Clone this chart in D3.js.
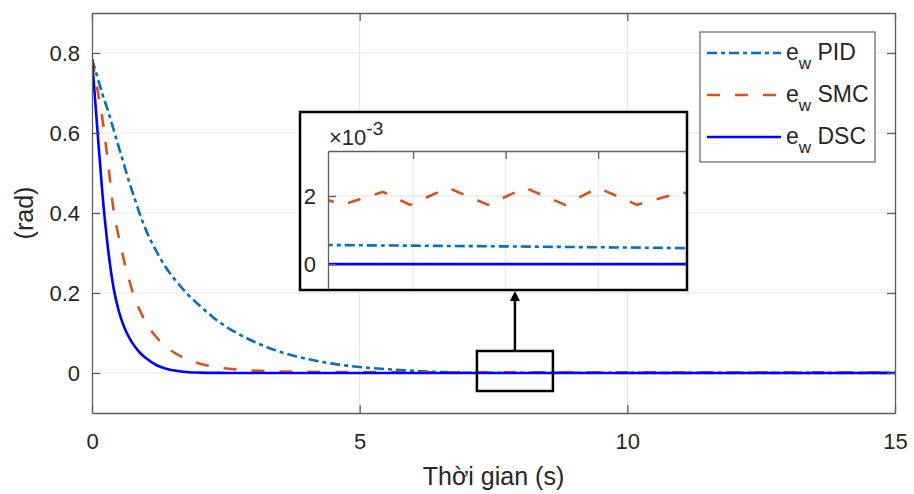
<!DOCTYPE html>
<html>
<head>
<meta charset="utf-8">
<script src="https://cdn.jsdelivr.net/npm/d3@7"></script>
<style>
  body { margin: 0; background: #fff; }
  text { font-family: "Liberation Sans", Arial, sans-serif; fill: #262626; }
</style>
</head>
<body>
<svg id="chart" width="914" height="494"></svg>
<script>
'use strict';

// e_w PID
const timePID = [0, 0.1, 0.2, 0.3, 0.4, 0.5, 0.6, 0.7, 0.8, 0.9, 1.0, 1.2, 1.4, 1.6, 1.8, 2.0, 2.3, 2.6, 3.0, 3.4, 3.8, 4.2, 4.6, 5.0, 5.5, 6.0, 6.5, 7.04, 8.0, 8.98, 10, 12, 15];
const errPID = [0.785, 0.74, 0.695, 0.655, 0.61, 0.565, 0.52, 0.475, 0.435, 0.395, 0.36, 0.305, 0.26, 0.225, 0.195, 0.17, 0.135, 0.108, 0.08, 0.058, 0.042, 0.03, 0.021, 0.015, 0.0095, 0.0055, 0.0025, 0.00056, 0.00052, 0.00047, 0.00043, 0.00037, 0.0003];

// e_w SMC (chattering around 2e-3 after ~4 s)
const timeSMC = [0, 0.1, 0.2, 0.3, 0.4, 0.5, 0.6, 0.7, 0.8, 0.9, 1.0, 1.2, 1.4, 1.6, 1.8, 2.0, 2.3, 2.6, 3.0, 3.4, 3.8, 4.5, 5.5, 6.5, 6.9,
  7.04, 7.116, 7.337, 7.483, 7.689, 7.905, 8.105, 8.321, 8.499, 8.71, 8.954, 9.1, 10, 12, 15];
const errSMC = [0.785, 0.71, 0.63, 0.525, 0.41, 0.34, 0.28, 0.23, 0.185, 0.155, 0.128, 0.09, 0.064, 0.046, 0.033, 0.024, 0.015, 0.01, 0.006, 0.004, 0.003, 0.0024, 0.0021, 0.002, 0.0019,
  0.00188, 0.00174, 0.00212, 0.00174, 0.00224, 0.00174, 0.00224, 0.00174, 0.00224, 0.00174, 0.00212, 0.0018, 0.002, 0.002, 0.002];

// e_w DSC
const timeDSC = [0, 0.1, 0.2, 0.3, 0.4, 0.5, 0.6, 0.7, 0.8, 0.9, 1.0, 1.2, 1.4, 1.6, 1.8, 2.0, 2.3, 2.6, 3.0, 15];
const errDSC = [0.785, 0.61, 0.44, 0.31, 0.215, 0.155, 0.115, 0.087, 0.066, 0.05, 0.038, 0.02, 0.01, 0.005, 0.002, 0.001, 0.0003, 0.0001, 0, 0];

const xTicks = [0, 5, 10, 15];
const yTicks = [0, 0.2, 0.4, 0.6, 0.8];
const insetXTicks = [7.5, 8, 8.5];
const insetYTicks = [0, 0.002];
const zoomT = [7.19, 8.61];      // rectangle marked on the main plot
const zoomE = [-0.045, 0.055];
const seriesNames = ['PID', 'SMC', 'DSC'];

const W = 914, H = 494;
const margin = {top: 13, right: 19, bottom: 81, left: 92};
const width = W - margin.left - margin.right;
const height = H - margin.top - margin.bottom;

const styles = {
  PID: {color: '#0072BD', dash: '10,4,4,4'},
  SMC: {color: '#D95319', dash: '13,15'},
  DSC: {color: '#0000FF', dash: null}
};

const series = [
  {name: 'PID', t: timePID, e: errPID},
  {name: 'SMC', t: timeSMC, e: errSMC},
  {name: 'DSC', t: timeDSC, e: errDSC}
].map(s => ({name: s.name, values: s.t.map((t, i) => ({t: t, e: s.e[i]}))}));

const svg = d3.select('#chart');

const x = d3.scaleLinear().domain([0, 15]).range([margin.left, margin.left + width]);
const y = d3.scaleLinear().domain([-0.1, 0.9]).range([margin.top + height, margin.top]);

// grid
const grid = svg.append('g').attr('stroke', '#e3e3e3').attr('stroke-width', 1);
grid.selectAll('line.gx').data(xTicks.slice(1, -1)).enter().append('line')
  .attr('x1', d => x(d)).attr('x2', d => x(d))
  .attr('y1', margin.top).attr('y2', margin.top + height);
grid.selectAll('line.gy').data(yTicks).enter().append('line')
  .attr('x1', margin.left).attr('x2', margin.left + width)
  .attr('y1', d => y(d)).attr('y2', d => y(d));

// curves
svg.append('clipPath').attr('id', 'clipMain').append('rect')
  .attr('x', margin.left).attr('y', margin.top).attr('width', width).attr('height', height);

const lineMain = d3.line().x(d => x(d.t)).y(d => y(d.e)).curve(d3.curveMonotoneX);

svg.append('g').attr('clip-path', 'url(#clipMain)')
  .selectAll('path').data(series).enter().append('path')
  .attr('d', d => lineMain(d.values))
  .attr('fill', 'none')
  .attr('stroke', d => styles[d.name].color)
  .attr('stroke-width', 2.6)
  .attr('stroke-dasharray', d => styles[d.name].dash);

// axes (box with inward ticks on all sides)
const axisColor = '#5e5e5e';
const tickLen = 8;
const axes = svg.append('g');

const bottomAxis = axes.append('g').attr('transform', `translate(0,${margin.top + height})`)
  .call(d3.axisBottom(x).tickValues(xTicks).tickSizeInner(-tickLen).tickSizeOuter(0).tickPadding(20).tickFormat(d3.format('d')));
const topAxis = axes.append('g').attr('transform', `translate(0,${margin.top})`)
  .call(d3.axisTop(x).tickValues(xTicks).tickSizeInner(-tickLen).tickSizeOuter(0).tickFormat(''));
const leftAxis = axes.append('g').attr('transform', `translate(${margin.left},0)`)
  .call(d3.axisLeft(y).tickValues(yTicks).tickSizeInner(-tickLen).tickSizeOuter(0).tickPadding(12).tickFormat(d => d === 0 ? '0' : d3.format('.1f')(d)));
const rightAxis = axes.append('g').attr('transform', `translate(${margin.left + width},0)`)
  .call(d3.axisRight(y).tickValues(yTicks).tickSizeInner(-tickLen).tickSizeOuter(0).tickFormat(''));

[bottomAxis, topAxis, leftAxis, rightAxis].forEach(g => {
  g.select('.domain').attr('stroke', axisColor).attr('stroke-width', 1.3);
  g.selectAll('.tick line').attr('stroke', axisColor).attr('stroke-width', 1.3);
  g.selectAll('.tick text').attr('font-size', 22).attr('fill', '#262626')
    .attr('font-family', '"Liberation Sans", Arial, sans-serif');
});

// axis labels
svg.append('text')
  .attr('x', margin.left + width / 2).attr('y', 485)
  .attr('text-anchor', 'middle').attr('font-size', 25)
  .text('Thời gian (s)');

svg.append('text')
  .attr('transform', `translate(33,${margin.top + height / 2}) rotate(-90)`)
  .attr('text-anchor', 'middle').attr('font-size', 25)
  .text('(rad)');

// zoom rectangle and arrow
svg.append('rect')
  .attr('x', x(zoomT[0])).attr('y', y(zoomE[1]))
  .attr('width', x(zoomT[1]) - x(zoomT[0])).attr('height', y(zoomE[0]) - y(zoomE[1]))
  .attr('fill', 'none').attr('stroke', '#000').attr('stroke-width', 2.5);

// inset
const inset = {boxL: 300, boxT: 112, left: 328, top: 151, right: 687, bottom: 290};
const ix = d3.scaleLinear().domain([7.04, 8.98]).range([inset.left, inset.right]);
const iy = d3.scaleLinear().domain([-0.00076, 0.00332]).range([inset.bottom, inset.top]);

const arrowX = x((zoomT[0] + zoomT[1]) / 2);
svg.append('line')
  .attr('x1', arrowX).attr('x2', arrowX)
  .attr('y1', y(zoomE[1])).attr('y2', inset.bottom + 8)
  .attr('stroke', '#000').attr('stroke-width', 2.5);
svg.append('path')
  .attr('d', `M${arrowX},${inset.bottom + 1} L${arrowX - 5},${inset.bottom + 11} L${arrowX + 5},${inset.bottom + 11} Z`)
  .attr('fill', '#000');

const ig = svg.append('g');
ig.append('rect')
  .attr('x', inset.boxL).attr('y', inset.boxT)
  .attr('width', inset.right - inset.boxL).attr('height', inset.bottom - inset.boxT)
  .attr('fill', '#fff');

const igrid = ig.append('g').attr('stroke', '#e3e3e3').attr('stroke-width', 1);
igrid.selectAll('line.gx').data(insetXTicks).enter().append('line')
  .attr('x1', d => ix(d)).attr('x2', d => ix(d))
  .attr('y1', inset.top).attr('y2', inset.bottom);
igrid.selectAll('line.gy').data(insetYTicks).enter().append('line')
  .attr('x1', inset.left).attr('x2', inset.right)
  .attr('y1', d => iy(d)).attr('y2', d => iy(d));

svg.append('clipPath').attr('id', 'clipInset').append('rect')
  .attr('x', inset.left).attr('y', inset.top)
  .attr('width', inset.right - inset.left).attr('height', inset.bottom - inset.top);

const lineInset = d3.line().x(d => ix(d.t)).y(d => iy(d.e));
ig.append('g').attr('clip-path', 'url(#clipInset)')
  .selectAll('path').data(series).enter().append('path')
  .attr('d', d => lineInset(d.values))
  .attr('fill', 'none')
  .attr('stroke', d => styles[d.name].color)
  .attr('stroke-width', 2.6)
  .attr('stroke-dasharray', d => styles[d.name].dash);

const iLeft = ig.append('g').attr('transform', `translate(${inset.left},0)`)
  .call(d3.axisLeft(iy).tickValues(insetYTicks).tickSizeInner(-tickLen).tickSizeOuter(0).tickPadding(12).tickFormat(d => d3.format('d')(d * 1000)));
const iTop = ig.append('g').attr('transform', `translate(0,${inset.top})`)
  .call(d3.axisTop(ix).tickValues(insetXTicks).tickSizeInner(-tickLen).tickSizeOuter(0).tickFormat(''));
[iLeft, iTop].forEach(g => {
  g.select('.domain').attr('stroke', axisColor).attr('stroke-width', 1.3);
  g.selectAll('.tick line').attr('stroke', axisColor).attr('stroke-width', 1.3);
  g.selectAll('.tick text').attr('font-size', 22).attr('fill', '#262626')
    .attr('font-family', '"Liberation Sans", Arial, sans-serif');
});

const exp = ig.append('text').attr('x', inset.left + 1).attr('y', inset.top - 6).attr('font-size', 22);
exp.append('tspan').text('×10');
exp.append('tspan').attr('dy', -10).attr('font-size', 19).text('-3');

ig.append('rect')
  .attr('x', inset.boxL).attr('y', inset.boxT)
  .attr('width', inset.right - inset.boxL).attr('height', inset.bottom - inset.boxT)
  .attr('fill', 'none').attr('stroke', '#000').attr('stroke-width', 2.5);

// legend
const legend = svg.append('g').attr('transform', 'translate(700,32)');
legend.append('rect')
  .attr('width', 175).attr('height', 130)
  .attr('fill', '#fff').attr('stroke', '#707070').attr('stroke-width', 1.3);

const rowY = d3.scalePoint().domain(seriesNames).range([21, 105]);
const rows = legend.selectAll('g.row').data(seriesNames).enter().append('g')
  .attr('transform', d => `translate(0,${rowY(d)})`);
rows.append('line')
  .attr('x1', 7).attr('x2', 81).attr('y1', 0).attr('y2', 0)
  .attr('stroke', d => styles[d].color).attr('stroke-width', 2.6)
  .attr('stroke-dasharray', d => styles[d].dash);
const lt = rows.append('text').attr('x', 86).attr('y', 7).attr('font-size', 23);
lt.append('tspan').text('e');
lt.append('tspan').attr('dy', 9).attr('font-size', 17).text('w');
lt.append('tspan').attr('dy', -9).text(d => ' ' + d);
</script>
</body>
</html>
